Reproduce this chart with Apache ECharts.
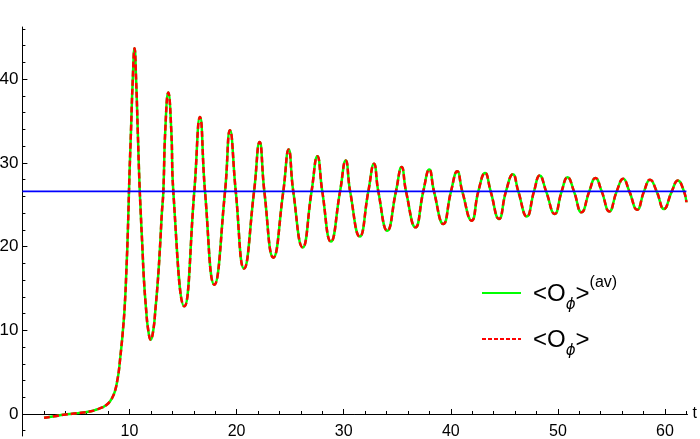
<!DOCTYPE html>
<html><head><meta charset="utf-8">
<script src="https://cdn.jsdelivr.net/npm/echarts@6/dist/echarts.min.js"></script>
<style>html,body{margin:0;padding:0;background:#fff}#c{width:700px;height:439px}</style>
</head><body><div id="c"></div>
<script>
// time samples
const tValues = [2.02, 3.0, 3.82, 4.8, 5.69, 6.4, 6.94, 7.45, 7.87, 8.2, 8.49, 8.7, 8.86, 9.0, 9.11, 9.24, 9.36, 9.55, 9.72, 9.85,
  9.98, 10.14, 10.3, 10.47, 10.62, 10.77, 10.92, 11.05, 11.2, 11.35, 11.55, 11.75, 11.98, 12.22, 12.42, 12.65, 12.85, 13.02,
  13.16, 13.34, 13.62, 13.9, 14.09, 15.12, 16.05, 16.58, 17.05, 17.92, 18.92, 19.38, 19.92, 20.69, 21.63, 22.15, 22.59, 23.43,
  24.36, 24.86, 25.29, 26.17, 27.0, 27.54, 28.0, 28.8, 29.66, 30.19, 30.6, 31.5, 32.3, 32.83, 33.23, 34.07, 34.88, 35.41,
  35.82, 36.7, 37.43, 37.99, 38.43, 39.3, 40.02, 40.6, 41.07, 41.95, 42.57, 43.2, 43.72, 44.5, 45.15, 45.8, 46.3, 47.1,
  47.77, 48.3, 48.9, 49.7, 50.35, 50.9, 51.5, 52.2, 52.93, 53.5, 54.09, 54.8, 55.49, 56.1, 56.67, 57.4, 58.04, 58.6, 59.22,
  59.9, 60.63, 61.2, 61.77, 62.0];
// <O_phi>
const oValues = [-0.45, -0.28, -0.1, 0.05, 0.18, 0.33, 0.54, 0.78, 1.1, 1.55, 2.2, 3.0, 4.0, 5.1, 6.4, 8.0, 9.6, 12.8, 17.5, 22.0,
  27.9, 33.9, 39.8, 43.7, 39.8, 33.9, 27.9, 24.0, 20.0, 16.0, 12.5, 10.0, 8.87, 10.0, 12.5, 16.0, 20.0, 24.0,
  26.6, 33.9, 38.4, 33.9, 26.6, 12.86, 26.6, 35.5, 26.6, 15.45, 26.6, 33.9, 26.6, 17.37, 26.6, 32.5, 26.6, 18.68,
  26.6, 31.6, 26.6, 19.9, 26.6, 30.8, 26.6, 20.6, 26.6, 30.3, 26.6, 21.2, 26.6, 29.9, 26.6, 21.9, 26.6, 29.5,
  26.6, 22.3, 26.6, 29.2, 26.6, 22.7, 26.6, 29.0, 26.6, 23.1, 26.6, 28.8, 26.6, 23.3, 26.6, 28.65, 26.6, 23.6,
  26.6, 28.5, 26.6, 23.9, 26.6, 28.3, 26.6, 24.1, 26.6, 28.2, 26.6, 24.2, 26.6, 28.1, 26.6, 24.4, 26.6, 28.0, 26.6,
  24.5, 26.6, 27.9, 26.6, 25.3];
// <O_phi>^(av) coincides with <O_phi> at this scale
const oAvValues = oValues.slice();
const avgLevel = 26.6;
const xRange = [0, 62.1];
const yRange = [-2.63, 46.24];
const xMajorTicks = [10, 20, 30, 40, 50, 60];
const xMinorTicks = [2, 4, 6, 8, 12, 14, 16, 18, 22, 24, 26, 28, 32, 34, 36, 38, 42, 44, 46, 48, 52, 54, 56, 58, 62];
const yMajorTicks = [0, 10, 20, 30, 40];
const yMinorTicks = [-2, 2, 4, 6, 8, 12, 14, 16, 18, 22, 24, 26, 28, 32, 34, 36, 38, 42, 44, 46];

const pairs = (xs, ys) => xs.map((x, i) => [x, ys[i]]);
const FONT = 'Liberation Sans';
const GRID_TOP = 27, GRID_BOTTOM_PX = 436;
const plotH = GRID_BOTTOM_PX - GRID_TOP;
// distance (px) from grid bottom up to the value 0
const zeroOffset = plotH * (0 - yRange[0]) / (yRange[1] - yRange[0]);
const chart = echarts.init(document.getElementById('c'), null, {renderer: 'canvas'});
const axisLineStyle = {color: '#000', width: 1};
chart.setOption({
  animation: false,
  backgroundColor: '#fff',
  grid: {left: 22.4, right: 12.5, top: GRID_TOP, bottom: 439 - GRID_BOTTOM_PX, containLabel: false, outerBoundsMode: 'none'},
  xAxis: [
    {type: 'value', min: xRange[0], max: xRange[1], position: 'bottom', offset: -zeroOffset,
     name: 't', nameLocation: 'end', nameGap: 5,
     nameTextStyle: {fontFamily: FONT, fontSize: 16, color: '#000', verticalAlign: 'middle'},
     axisLine: {onZero: false, lineStyle: axisLineStyle},
     axisTick: {show: true, inside: true, length: 5, customValues: xMajorTicks, lineStyle: {color: '#000'}},
     axisLabel: {customValues: xMajorTicks, fontFamily: FONT, fontSize: 16, color: '#000', margin: 10},
     splitLine: {show: false}},
    {type: 'value', min: xRange[0], max: xRange[1], position: 'bottom', offset: -zeroOffset,
     axisLine: {show: false, onZero: false},
     axisTick: {show: true, inside: true, length: 3, customValues: xMinorTicks, lineStyle: {color: '#000'}},
     axisLabel: {show: false}, splitLine: {show: false}}
  ],
  yAxis: [
    {type: 'value', min: yRange[0], max: yRange[1], position: 'left',
     axisLine: {onZero: false, lineStyle: axisLineStyle},
     axisTick: {show: true, inside: true, length: 5, customValues: yMajorTicks, lineStyle: {color: '#000'}},
     axisLabel: {customValues: yMajorTicks, fontFamily: FONT, fontSize: 17, color: '#000', margin: 4},
     splitLine: {show: false}},
    {type: 'value', min: yRange[0], max: yRange[1], position: 'left',
     axisLine: {show: false, onZero: false},
     axisTick: {show: true, inside: true, length: 3, customValues: yMinorTicks, lineStyle: {color: '#000'}},
     axisLabel: {show: false}, splitLine: {show: false}}
  ],
  series: [
    {name: '<Oϕ>(av)', type: 'line', xAxisIndex: 0, yAxisIndex: 0, data: pairs(tValues, oAvValues),
     showSymbol: false, smooth: 0.5, lineStyle: {color: '#00ff00', width: 2.5}, z: 2},
    {name: '<Oϕ>', type: 'line', xAxisIndex: 0, yAxisIndex: 0, data: pairs(tValues, oValues),
     showSymbol: false, smooth: 0.5, lineStyle: {color: '#ff0000', width: 2.5, type: [6, 3]}, z: 3},
    {name: 'average', type: 'line', xAxisIndex: 0, yAxisIndex: 0, data: [[xRange[0], avgLevel], [62.0, avgLevel]],
     showSymbol: false, lineStyle: {color: '#0000ff', width: 1.6}, z: 4}
  ],
  graphic: [
    {type: 'line', shape: {x1: 482, y1: 293, x2: 521, y2: 293}, style: {stroke: '#00ff00', lineWidth: 2}},
    {type: 'line', shape: {x1: 482, y1: 339, x2: 521, y2: 339}, style: {stroke: '#ff0000', lineWidth: 2, lineDash: [4, 2]}},
    {type: 'text', x: 533, y: 275, style: {
      text: '{m|<O}{s|ϕ}{m|>}{p|(av)}', fill: '#000',
      rich: {
        m: {fontFamily: FONT, fontSize: 24, lineHeight: 38, fill: '#000'},
        s: {fontFamily: 'DejaVu Sans', fontSize: 15, fontStyle: 'italic', lineHeight: 16, verticalAlign: 'bottom', fill: '#000'},
        p: {fontFamily: FONT, fontSize: 16, lineHeight: 24, verticalAlign: 'top', fill: '#000'}
      }}},
    {type: 'text', x: 533, y: 321, style: {
      text: '{m|<O}{s|ϕ}{m|>}', fill: '#000',
      rich: {
        m: {fontFamily: FONT, fontSize: 24, lineHeight: 38, fill: '#000'},
        s: {fontFamily: 'DejaVu Sans', fontSize: 15, fontStyle: 'italic', lineHeight: 16, verticalAlign: 'bottom', fill: '#000'}
      }}}
  ]
});
</script>
</body></html>
